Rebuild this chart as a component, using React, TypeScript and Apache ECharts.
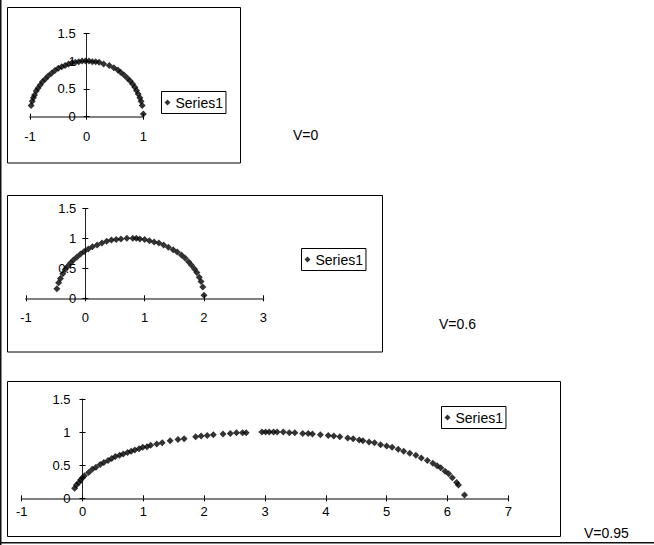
import React, { useEffect, useRef } from "react";
import * as echarts from "echarts";

// V = 0
const xV0 = [-0.98, -0.96, -0.94, -0.92, -0.89, -0.86, -0.82, -0.78, -0.73, -0.68, -0.62, -0.56, -0.5, -0.44, -0.38, -0.32, -0.26, -0.2, -0.14, -0.08, -0.02, 0.04, 0.1, 0.16, 0.22, 0.3, 0.4, 0.48, 0.55, 0.6, 0.66, 0.72, 0.77, 0.81, 0.85, 0.88, 0.91, 0.94, 0.96, 0.98, 1.0];
const yV0 = [0.2, 0.28, 0.34, 0.39, 0.46, 0.51, 0.57, 0.63, 0.68, 0.73, 0.78, 0.83, 0.87, 0.9, 0.92, 0.95, 0.97, 0.98, 0.99, 1.0, 1.0, 1.0, 0.99, 0.99, 0.98, 0.95, 0.92, 0.88, 0.84, 0.8, 0.75, 0.69, 0.64, 0.59, 0.53, 0.47, 0.41, 0.34, 0.28, 0.2, 0.05];

// V = 0.6
const xV06 = [-0.48, -0.45, -0.42, -0.38, -0.34, -0.3, -0.25, -0.2, -0.14, -0.08, -0.02, 0.05, 0.12, 0.2, 0.28, 0.36, 0.44, 0.52, 0.6, 0.7, 0.8, 0.86, 0.92, 1.0, 1.08, 1.16, 1.24, 1.32, 1.4, 1.48, 1.55, 1.62, 1.68, 1.74, 1.79, 1.84, 1.88, 1.92, 1.95, 1.98, 2.0];
const yV06 = [0.16, 0.26, 0.33, 0.41, 0.48, 0.53, 0.59, 0.64, 0.69, 0.74, 0.78, 0.82, 0.86, 0.89, 0.92, 0.95, 0.97, 0.98, 0.99, 1.0, 1.0, 1.0, 0.99, 0.98, 0.96, 0.94, 0.92, 0.89, 0.85, 0.81, 0.77, 0.72, 0.67, 0.61, 0.55, 0.49, 0.43, 0.35, 0.28, 0.19, 0.05];

// V = 0.95
const xV095 = [-0.13, -0.1, -0.06, -0.03, 0.0, 0.03, 0.1, 0.16, 0.22, 0.29, 0.35, 0.42, 0.48, 0.54, 0.61, 0.67, 0.74, 0.8, 0.86, 0.93, 0.99, 1.06, 1.12, 1.22, 1.31, 1.44, 1.57, 1.67, 1.86, 1.95, 2.05, 2.15, 2.31, 2.43, 2.53, 2.63, 2.69, 2.95, 3.01, 3.07, 3.14, 3.2, 3.3, 3.4, 3.49, 3.62, 3.71, 3.78, 3.91, 4.04, 4.13, 4.23, 4.36, 4.45, 4.55, 4.61, 4.71, 4.8, 4.9, 5.0, 5.09, 5.19, 5.28, 5.38, 5.48, 5.57, 5.67, 5.76, 5.83, 5.89, 5.96, 6.02, 6.08, 6.15, 6.18, 6.28];
const yV095 = [0.15, 0.2, 0.24, 0.28, 0.31, 0.34, 0.39, 0.44, 0.47, 0.51, 0.54, 0.57, 0.6, 0.63, 0.65, 0.67, 0.69, 0.71, 0.73, 0.75, 0.77, 0.78, 0.8, 0.82, 0.84, 0.87, 0.89, 0.9, 0.93, 0.94, 0.95, 0.96, 0.97, 0.98, 0.99, 0.99, 0.99, 1.0, 1.0, 1.0, 1.0, 1.0, 1.0, 0.99, 0.99, 0.98, 0.98, 0.97, 0.96, 0.95, 0.94, 0.93, 0.91, 0.9, 0.88, 0.87, 0.85, 0.84, 0.81, 0.79, 0.77, 0.74, 0.71, 0.68, 0.65, 0.61, 0.57, 0.53, 0.49, 0.46, 0.41, 0.37, 0.31, 0.24, 0.2, 0.05];

const seriesName = "Series1";
const vLabels = ["V=0", "V=0.6", "V=0.95"];
const xRanges = [[-1, 1], [-1, 3], [-1, 7]];
const yRange = [0, 1.5];

const FONT = 'Arial, "Liberation Sans", sans-serif';

export default function App() {
  const ref = useRef<HTMLDivElement>(null);
  useEffect(() => {
    if (!ref.current) return;
    const chart = echarts.init(ref.current, null, { renderer: "svg" });
    const grids = [
      { left: 30, top: 33.3, width: 113.3, height: 83.4 },
      { left: 26, top: 208.3, width: 237.3, height: 90 },
      { left: 21.7, top: 399, width: 486.6, height: 99.3 },
    ];
    const xMargins = [13, 13, 7];
    const yMargins = [11, 9, 12];
    const datas = [
      xV0.map((x, i) => [x, yV0[i]]),
      xV06.map((x, i) => [x, yV06[i]]),
      xV095.map((x, i) => [x, yV095[i]]),
    ];
    const xAxis: any[] = [];
    const yAxis: any[] = [];
    grids.forEach((gr, g) => {
      const [mn, mx] = xRanges[g];
      const zeroFromLeft = ((0 - mn) / (mx - mn)) * gr.width;
      const zeroFromRight = gr.width - zeroFromLeft;
      const common = {
        gridIndex: g,
        type: "value",
        splitLine: { show: false },
      };
      const tick = { show: true, length: 3, lineStyle: { color: "#000", width: 1 } };
      xAxis.push({
        ...common,
        min: mn,
        max: mx,
        interval: 1,
        position: "bottom",
        axisLine: { show: true, onZero: false, lineStyle: { color: "#808080", width: 2 } },
        axisTick: tick,
        axisLabel: { margin: xMargins[g], fontSize: 13, color: "#000", fontFamily: FONT },
      });
      xAxis.push({
        ...common,
        min: mn,
        max: mx,
        interval: 1,
        position: "top",
        offset: -gr.height,
        axisLine: { show: false, onZero: false },
        axisTick: tick,
        axisLabel: { show: false },
      });
      yAxis.push({
        ...common,
        min: yRange[0],
        max: yRange[1],
        interval: 0.5,
        position: "left",
        offset: -zeroFromLeft,
        axisLine: { show: true, onZero: false, lineStyle: { color: "#222", width: 1 } },
        axisTick: tick,
        axisLabel: { margin: yMargins[g], fontSize: 13, color: "#000", fontFamily: FONT },
      });
      yAxis.push({
        ...common,
        min: yRange[0],
        max: yRange[1],
        interval: 0.5,
        position: "right",
        offset: -zeroFromRight,
        axisLine: { show: false, onZero: false },
        axisTick: tick,
        axisLabel: { show: false },
      });
    });
    const series = datas.map((d, g) => ({
      type: "scatter",
      name: seriesName,
      xAxisIndex: g * 2,
      yAxisIndex: g * 2,
      data: d,
      symbol: "diamond",
      symbolSize: 7,
      itemStyle: { color: "#000" },
      z: 5,
    }));
    const legendPos = [
      { left: 161.5, top: 91.5 },
      { left: 301.5, top: 248.5 },
      { left: 441.5, top: 406.5 },
    ];
    const legend = legendPos.map((p) => ({
      ...p,
      data: [{ name: seriesName, icon: "diamond" }],
      orient: "vertical",
      borderColor: "#000",
      borderWidth: 1,
      padding: [4, 3, 4, 3],
      itemWidth: 6,
      itemHeight: 6,
      selectedMode: false,
      textStyle: { fontSize: 14, color: "#000", fontFamily: FONT },
    }));
    const boxes = [
      { x: 7.5, y: 7.5, width: 233, height: 155.5 },
      { x: 7.5, y: 195.5, width: 375, height: 156.5 },
      { x: 7.5, y: 381.5, width: 553, height: 155 },
    ];
    const vPos = [
      { x: 293, y: 135 },
      { x: 439, y: 324 },
      { x: 584, y: 533 },
    ];
    const graphic: any[] = [];
    boxes.forEach((b) => {
      graphic.push({
        type: "rect",
        shape: b,
        style: { fill: "none", stroke: "#000", lineWidth: 1 },
        z: -1,
        silent: true,
      });
    });
    vPos.forEach((p, i) => {
      graphic.push({
        type: "text",
        x: p.x,
        y: p.y,
        style: {
          text: vLabels[i],
          font: `14px ${FONT}`,
          fill: "#000",
          verticalAlign: "middle",
        },
      });
    });
    graphic.push({
      type: "rect",
      shape: { x: 0, y: 0, width: 1.5, height: 545 },
      style: { fill: "#111" },
      silent: true,
    });
    graphic.push({
      type: "rect",
      shape: { x: 0, y: 542, width: 654, height: 1.5 },
      style: { fill: "#111" },
      silent: true,
    });
    chart.setOption({
      animation: false,
      backgroundColor: "#fff",
      grid: grids.map((g) => ({ ...g, containLabel: false })),
      xAxis,
      yAxis,
      legend,
      series,
      graphic,
    });
    return () => chart.dispose();
  }, []);
  return (
    <div
      ref={ref}
      style={{ position: "fixed", left: 0, top: 0, width: 654, height: 545, background: "#fff" }}
    />
  );
}
